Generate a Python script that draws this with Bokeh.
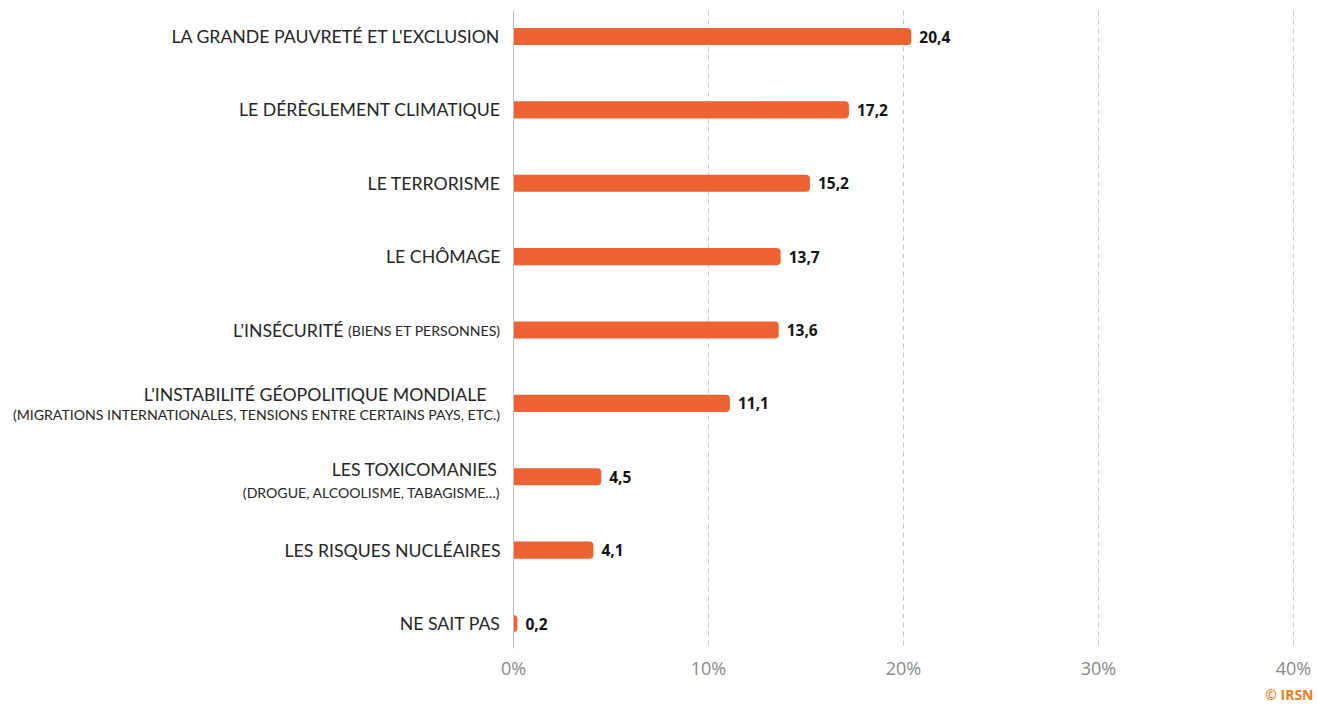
from bokeh.plotting import figure
from bokeh.models import ColumnDataSource, Range1d, FixedTicker, PrintfTickFormatter, Span, Title
from bokeh.core.properties import value
from bokeh.embed import file_html
from bokeh.resources import INLINE

# ---- data ----
main_labels = [
    "LA GRANDE PAUVRETÉ ET L'EXCLUSION",
    "LE DÉRÈGLEMENT CLIMATIQUE",
    "LE TERRORISME",
    "LE CHÔMAGE",
    "L’INSÉCURITÉ",
    "L'INSTABILITÉ GÉOPOLITIQUE MONDIALE",
    "LES TOXICOMANIES",
    "LES RISQUES NUCLÉAIRES",
    "NE SAIT PAS",
]
inline_notes = ["", "", "", "", "(BIENS ET PERSONNES)", "", "", "", ""]
second_lines = [
    "", "", "", "", "",
    "(MIGRATIONS INTERNATIONALES, TENSIONS ENTRE CERTAINS PAYS, ETC.)",
    "(DROGUE, ALCOOLISME, TABAGISME…)",
    "", "",
]
values = [20.4, 17.2, 15.2, 13.7, 13.6, 11.1, 4.5, 4.1, 0.2]
x_ticks = [0, 10, 20, 30, 40]
grid_ticks = [10, 20, 30, 40]
credit = "© IRSN"

# ---- derived ----
n = len(values)
rows = list(range(n))
value_text = [f"{v:.1f}".replace(".", ",") for v in values]

# style offsets (pixels)
main_dx, main_dy, sec_dy = [], [], []
for i in rows:
    dx, dy, sdy = -13, 0, 0
    if inline_notes[i]:
        dx = -170
    if second_lines[i]:
        if i == 5:
            dx, dy, sdy = -27, -9, 11
        else:
            dx, dy, sdy = -16, -7, 16
    main_dx.append(dx)
    main_dy.append(dy)
    sec_dy.append(sdy)

src = ColumnDataSource(dict(
    row=rows, val=values, vtext=value_text, main=main_labels,
    mdx=main_dx, mdy=main_dy, sdy=sec_dy, note=inline_notes, second=second_lines,
))

W, H = 1315, 703
left_b, right_b = 8, 17
frame_w = W - left_b - right_b
px_per_unit = 19.5
zero_px = 505
x_start = -zero_px / px_per_unit
x_end = (frame_w - zero_px) / px_per_unit

row_px = 73.375
top_px = 10
first_row_px = 36
bottom_px = 648
y_top = -(first_row_px - top_px) / row_px
y_bottom = (bottom_px - first_row_px) / row_px

p = figure(width=W, height=H, output_backend="svg", toolbar_location=None,
           x_range=Range1d(x_start, x_end), y_range=Range1d(y_bottom, y_top),
           min_border_left=left_b, min_border_right=right_b, min_border_top=top_px,
           min_border_bottom=H - bottom_px)
p.outline_line_color = None
p.background_fill_color = "white"

p.xgrid.ticker = FixedTicker(ticks=grid_ticks)
p.xgrid.grid_line_color = "#c8c8c8"
p.xgrid.grid_line_dash = "5 4"
p.xgrid.grid_line_width = 1
p.ygrid.visible = False
p.yaxis.visible = False

p.xaxis.ticker = FixedTicker(ticks=x_ticks)
p.xaxis.formatter = PrintfTickFormatter(format="%d%%")
p.xaxis.axis_line_color = None
p.xaxis.major_tick_line_color = None
p.xaxis.major_tick_out = 0
p.xaxis.major_tick_in = 0
p.xaxis.minor_tick_line_color = None
p.xaxis.major_label_text_color = "#8a8a8a"
p.xaxis.major_label_text_font = "Open Sans"
p.xaxis.major_label_text_font_size = "18px"
p.xaxis.major_label_standoff = 7

p.add_layout(Title(text=credit, align="right", text_font="Open Sans",
                   text_font_style="bold", text_font_size="14px",
                   text_color="#F07D1E", offset=-15, standoff=0), "below")

p.add_layout(Span(location=0, dimension="height", line_color="#bdbdbd", line_width=1))

p.hbar(y="row", left=0, right="val", height=0.232, source=src,
       fill_color="#ED6231", line_color=None, border_radius=(0, 4, 4, 0))

p.text(x="val", y="row", text="vtext", source=src, x_offset=8,
       text_baseline="middle", text_align="left",
       text_font=value("Open Sans"), text_font_style="bold",
       text_font_size="15.5px", text_color="#141414")

p.text(x=0, y="row", text="main", source=src, x_offset="mdx", y_offset="mdy",
       text_baseline="middle", text_align="right",
       text_font=value("Lato"), text_font_size="17.7px", text_color="#262626")

p.text(x=0, y="row", text="note", source=src, x_offset=-13,
       text_baseline="middle", text_align="right",
       text_font=value("Lato"), text_font_size="14.1px", text_color="#262626")

p.text(x=0, y="row", text="second", source=src, x_offset=-13, y_offset="sdy",
       text_baseline="middle", text_align="right",
       text_font=value("Lato"), text_font_size="14.1px", text_color="#262626")

open("out.html", "w").write(file_html(p, INLINE))
